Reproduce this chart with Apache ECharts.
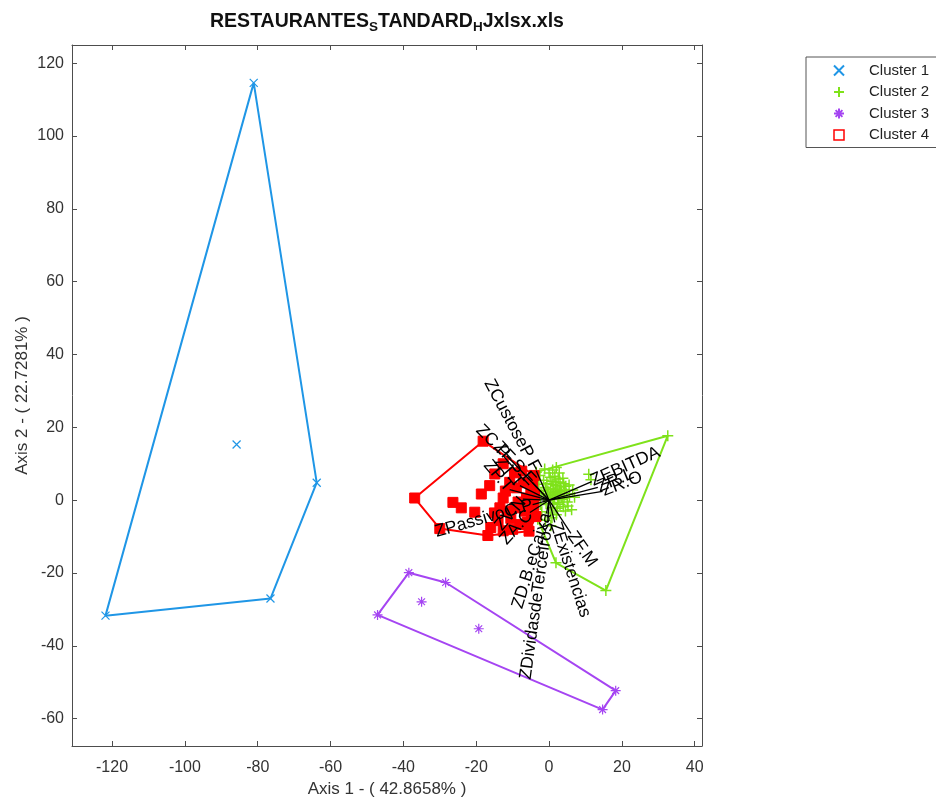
<!DOCTYPE html>
<html>
<head>
<meta charset="utf-8">
<script src="https://cdn.jsdelivr.net/npm/echarts@6/dist/echarts.min.js"></script>
<style>
html,body{margin:0;padding:0;background:#fff;}
#chart{width:936px;height:803px;}
</style>
</head>
<body>
<div id="chart"></div>
<script>
// ---------- data ----------
const clusterNames = ['Cluster 1', 'Cluster 2', 'Cluster 3', 'Cluster 4'];

const cluster1Points = [[-81.1,114.6],[-63.8,4.8],[-76.5,-27.0],[-121.8,-31.7],[-85.8,15.3]];
const cluster1Hull = [[-81.1,114.6],[-63.8,4.8],[-76.5,-27.0],[-121.8,-31.7],[-81.1,114.6]];

const cluster2Points = [
  [0.5,2.0],[1.2,3.1],[2.0,1.5],[2.8,2.4],[3.5,1.0],[1.8,4.0],[0.8,5.2],[2.5,5.8],[3.2,3.6],[4.2,2.8],
  [4.8,1.8],[1.5,0.4],[0.2,0.8],[-0.5,1.5],[-1.0,3.5],[-1.5,5.5],[-2.5,6.8],[0.0,7.5],[1.0,8.3],[2.8,7.5],
  [3.8,6.0],[5.5,4.2],[6.5,2.8],[5.0,-0.5],[3.0,-1.2],[1.0,-2.0],[0.3,-3.5],[2.0,-4.0],[4.5,-3.0],[6.2,-2.6],
  [7.0,0.8],[-0.8,-1.0],[-2.0,-3.2],[-1.0,-5.5],[0.5,-7.0],[2.3,-2.2],[3.6,0.2],[4.0,4.5],[10.9,7.1],[11.5,5.6],
  [1.9,-17.2],[32.6,17.7],[15.6,-24.8],[-3.5,7.7],[-3.1,-5.2],[-2.2,1.8],
  [0.9,1.2],[1.6,2.2],[2.2,3.0],[2.6,0.8],[3.1,1.9],[0.4,3.0],[1.1,4.4],[1.9,5.0],[3.0,4.9],[-0.3,2.5],
  [-1.6,2.6],[-0.6,4.6],[0.3,6.3],[1.6,6.6],[3.4,2.6],[4.1,0.6],[2.4,-0.6],[1.3,-1.0],[-0.2,-0.2],[-1.4,0.4],
  [5.6,1.0],[4.6,3.8],[2.1,-3.0],[0.8,-4.8],[-2.4,-1.2],[-2.8,4.4],[3.9,-1.8],[5.2,-1.6],[2.0,9.0],[-1.2,8.6]
];
const cluster2Hull = [[32.6,17.7],[15.6,-24.8],[1.9,-17.2],[-3.1,-5.2],[-3.5,7.7],[32.6,17.7]];

const cluster3Points = [[-47.1,-31.5],[-38.5,-19.9],[-28.4,-22.6],[-35.0,-27.9],[-19.3,-35.3],[18.3,-52.3],[14.7,-57.5]];
const cluster3Hull = [[-47.1,-31.5],[-38.5,-19.9],[-28.4,-22.6],[18.3,-52.3],[14.7,-57.5],[-47.1,-31.5]];

const cluster4Points = [
  [-18.1,16.2],[-36.9,0.6],[-30.0,-7.8],[-16.8,-9.7],[-26.4,-0.6],[-24.1,-2.1],[-20.4,-3.3],[-18.6,1.7],
  [-16.3,4.0],[-14.9,7.2],[-12.6,10.0],[-12.6,0.6],[-14.0,-5.6],[-12.6,-8.4],[-9.0,3.4],[-9.4,-2.1],
  [-6.7,-3.0],[-6.2,0.6],[-4.8,-4.0],[-8.0,-6.7],[-10.8,4.9],[-13.5,-2.1],[-4.1,6.8],[-3.6,-4.5],
  [-5.5,-8.5],[-7.5,8.0],[-5.0,2.5],[-10.5,-5.0],[-16.0,-7.5],
  [-4.2,-1.5],[-4.0,1.2],[-6.0,-6.0],[-7.0,4.8],[-8.5,-0.5],[-11.5,-3.0],[-4.5,4.0],[-9.5,7.5],[-6.5,-1.0],
  [-12.0,2.5],[-15.0,-3.5],[-10.0,-8.0]
];
const cluster4Hull = [[-18.1,16.2],[-4.1,6.8],[-3.6,-4.5],[-5.5,-8.5],[-16.8,-9.7],[-30.0,-7.8],[-36.9,0.6],[-18.1,16.2]];

// biplot variable vectors (loadings)
const varNames = ['ZCustoseP F','ZC.P','ZF.S.E','ZT.T','ZP.T','ZPassivoC.P','ZV.N','ZA.C',
                  'ZD.B.eCaixa','ZDividasdeTerceiros','ZExistencias','ZF.M','ZEBITDA','ZR.L','ZR.O'];
const varX = [-3.5,-11.6,-4.5,-8.0,-10.8,-4.5,-7.2,-5.25,-0.7,-0.36,1.57,6.0,11.7,13.4,14.7];
const varY = [8.1,12.2,4.8,4.0,2.9,-1.2,0.3,-3.4,-3.6,-6.1,-6.1,-9.1,5.1,3.5,2.4];

// ---------- styles ----------
const labelRotate = [-62,-45,-47,-50,-50,16,50,48,73,82,-72,-55,24,22,21];
const colors = ['#1f96e6','#7fe21a','#a545f2','#ff0000'];
const FONT = '"Liberation Sans", Arial, Helvetica, sans-serif';

const xMarker = 'path://M0,0L10,10M10,0L0,10';
const plusMarker = 'path://M5,0L5,10M0,5L10,5';
const starMarker = 'path://M5,0L5,10M0,5L10,5M1.6,1.6L8.4,8.4M8.4,1.6L1.6,8.4';
const squareMarker = 'path://M0,0L10,0L10,10L0,10Z';

const chart = echarts.init(document.getElementById('chart'), null, {renderer:'canvas'});

function hullSeries(name, data, color) {
  return {
    name: name, type: 'line', data: data, symbol: 'none', silent: true,
    lineStyle: {color: color, width: 2}, z: 2, animation: false
  };
}
function pointSeries(name, data, color, symbol, size, filled, bw) {
  return {
    name: name, type: 'scatter', data: data, symbol: symbol, symbolSize: size,
    itemStyle: filled ? {color: color, borderColor: color, borderWidth: 1, opacity: 1}
                      : {color: 'transparent', borderColor: color, borderWidth: bw, opacity: 1},
    z: 3, animation: false
  };
}

const axisCommon = {
  type: 'value',
  axisLine: {show: true, onZero: false, lineStyle: {color: '#4d4d4d', width: 1}},
  axisTick: {show: true, inside: true, length: 5, lineStyle: {color: '#4d4d4d'}},
  splitLine: {show: false},
  axisLabel: {color: '#333', fontSize: 16, fontFamily: FONT, showMinLabel: false, showMaxLabel: false}
};

const option = {
  animation: false,
  backgroundColor: '#fff',
  title: {
    left: 387, top: 10, textAlign: 'center', padding: 0,
    text: '{a|RESTAURANTES}{s|S}{a|TANDARD}{s|H}{a|Jxlsx.xls}',
    textStyle: {
      rich: {
        a: {fontSize: 19.5, fontWeight: 'bold', fontFamily: FONT, color: '#111', lineHeight: 24, verticalAlign: 'middle'},
        s: {fontSize: 13.5, fontWeight: 'bold', fontFamily: FONT, color: '#111', lineHeight: 13, verticalAlign: 'bottom'}
      }
    }
  },
  legend: {
    orient: 'vertical', left: 806, top: 57,
    padding: [6, 40, 5, 27],
    itemWidth: 50, itemHeight: 10, itemGap: 6.5,
    borderColor: '#555', borderWidth: 1, backgroundColor: '#fff',
    textStyle: {fontSize: 15, fontFamily: FONT, color: '#222', lineHeight: 15},
    data: [
      {name: clusterNames[0], icon: xMarker},
      {name: clusterNames[1], icon: plusMarker},
      {name: clusterNames[2], icon: starMarker},
      {name: clusterNames[3], icon: squareMarker, itemStyle: {color: 'transparent', borderColor: colors[3], borderWidth: 1.5}}
    ]
  },
  grid: {left: 72, top: 45, right: 234, bottom: 57, containLabel: false},
  xAxis: [
    Object.assign({}, axisCommon, {
      position: 'bottom', min: -131, max: 42, splitNumber: 8,
      name: 'Axis 1 - ( 42.8658% )', nameLocation: 'middle', nameGap: 35, nameMoveOverlap: false,
      nameTextStyle: {fontSize: 17, fontFamily: FONT, color: '#333'},
      axisLabel: Object.assign({}, axisCommon.axisLabel, {margin: 14})
    }),
    Object.assign({}, axisCommon, {
      position: 'top', min: -131, max: 42, splitNumber: 8,
      axisLabel: {show: false}
    })
  ],
  yAxis: [
    Object.assign({}, axisCommon, {
      position: 'left', min: -67.5, max: 125, splitNumber: 10,
      name: 'Axis 2 - ( 22.7281% )', nameLocation: 'middle', nameGap: 41, nameMoveOverlap: false,
      nameTextStyle: {fontSize: 17, fontFamily: FONT, color: '#333'},
      axisLabel: Object.assign({}, axisCommon.axisLabel, {margin: 8})
    }),
    Object.assign({}, axisCommon, {
      position: 'right', min: -67.5, max: 125, splitNumber: 10,
      axisLabel: {show: false}
    })
  ],
  series: [
    hullSeries('hull1', cluster1Hull, colors[0]),
    hullSeries('hull2', cluster2Hull, colors[1]),
    hullSeries('hull3', cluster3Hull, colors[2]),
    hullSeries('hull4', cluster4Hull, colors[3]),
    pointSeries(clusterNames[0], cluster1Points, colors[0], xMarker, 8, false, 1.2),
    pointSeries(clusterNames[1], cluster2Points, colors[1], plusMarker, 11, false, 1.5),
    pointSeries(clusterNames[2], cluster3Points, colors[2], starMarker, 10, false, 1.2),
    pointSeries(clusterNames[3], cluster4Points, colors[3], 'rect', 10, true, 1),
    {
      name: 'vectors', type: 'custom', z: 10, animation: false, silent: true,
      data: varNames.map((n, i) => [varX[i], varY[i]]),
      encode: {x: 0, y: 1},
      renderItem: function (params, api) {
        const i = params.dataIndex;
        const p0 = api.coord([0, 0]);
        const p1 = api.coord([api.value(0), api.value(1)]);
        const rot = labelRotate[i];
        const alignRight = api.value(0) < 0;
        return {
          type: 'group',
          children: [
            {type: 'line', shape: {x1: p0[0], y1: p0[1], x2: p1[0], y2: p1[1]},
             style: {stroke: '#000', lineWidth: 1.3}},
            {type: 'text', x: p1[0], y: p1[1], rotation: rot * Math.PI / 180,
             style: {text: varNames[i], fill: '#000', fontSize: 17.5, fontFamily: FONT,
                     align: alignRight ? 'right' : 'left', verticalAlign: 'middle'}}
          ]
        };
      }
    }
  ]
};
chart.setOption(option);
</script>
</body>
</html>
